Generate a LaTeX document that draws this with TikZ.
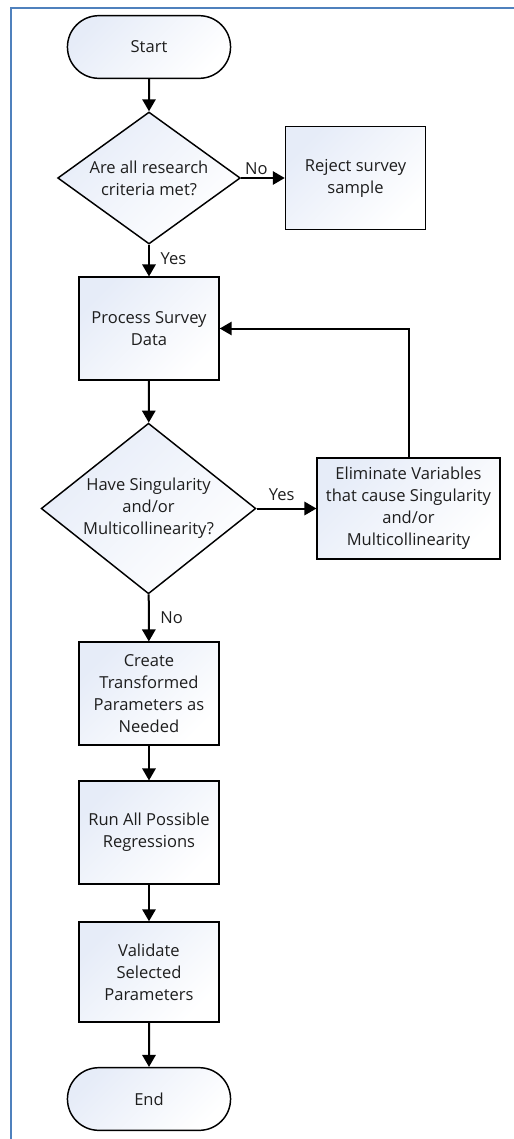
\documentclass[tikz,border=0pt]{standalone}
\usepackage{fontspec}
\setmainfont{Open Sans}
\usetikzlibrary{arrows.meta,shapes.geometric,shapes.misc}
\begin{document}
\begin{tikzpicture}[x=0.75pt,y=-0.75pt,
  every node/.style={font=\fontsize{12.4}{16.5}\selectfont,align=center,text=textcolor},
  boxfill/.style={draw=linecolor,line width=1.1pt,top color=fillcolor,bottom color=white,shading angle=45},
  procbox/.style={boxfill,rectangle,minimum width=105pt,minimum height=77pt,inner sep=2pt},
  termbox/.style={boxfill,rounded rectangle,minimum width=129pt,minimum height=47pt},
  decbox/.style={boxfill,diamond,inner sep=-1.5pt},
  flow/.style={draw=linecolor,line width=1.5pt,-{Triangle[length=9pt,width=10pt]}},
  lbl/.style={font=\fontsize{12.4}{14}\selectfont,inner sep=2pt}]
\definecolor{linecolor}{RGB}{0,0,0}
\definecolor{textcolor}{RGB}{30,30,30}
\definecolor{fillcolor}{RGB}{230,236,248}
\definecolor{framecolor}{RGB}{79,129,189}
\useasboundingbox (0,0) rectangle (514,1139);
\draw [framecolor,line width=1.6pt] (11,1139) -- (11,8) -- (514,8);
\node [termbox] (start) at (149,47) {Start};
\node [decbox,aspect=1.39,minimum width=137pt,minimum height=99pt] (crit) at (149,178) {Are all research\\criteria met?};
\node [procbox] (reject) at (355.5,178) {Reject survey\\sample};
\node [procbox] (process) at (149,328.5) {Process Survey\\Data};
\node [decbox,aspect=1.26,minimum width=161pt,minimum height=128pt] (sing) at (148.5,508.5) {Have Singularity\\and/or\\Multicollinearity?};
\node [procbox,minimum width=137pt,minimum height=76pt] (elim) at (408.5,508.5) {Eliminate Variables\\that cause Singularity\\and/or\\Multicollinearity};
\node [procbox] (create) at (149,693.5) {Create\\Transformed\\Parameters as\\Needed};
\node [procbox] (run) at (149,832.5) {Run All Possible\\Regressions};
\node [procbox,minimum height=75pt] (validate) at (149,972) {Validate\\Selected\\Parameters};
\node [termbox] (stop) at (149,1099) {End};
\draw [flow] (start) -- (crit);
\draw [flow] (crit) -- node [lbl,pos=0.35,above] (critno) {No} (reject);
\draw [flow] (crit) -- node [lbl,pos=0.45,right=6pt] (crityes) {Yes} (process);
\draw [flow] (process) -- (sing);
\draw [flow] (sing) -- node [lbl,pos=0.42,above=3pt] (singyes) {Yes} (elim);
\draw [flow] (elim) |- (process);
\draw [flow] (sing) -- node [lbl,pos=0.5,right=6pt] (singno) {No} (create);
\draw [flow] (create) -- (run);
\draw [flow] (run) -- (validate);
\draw [flow] (validate) -- (stop);
\end{tikzpicture}
\end{document}
